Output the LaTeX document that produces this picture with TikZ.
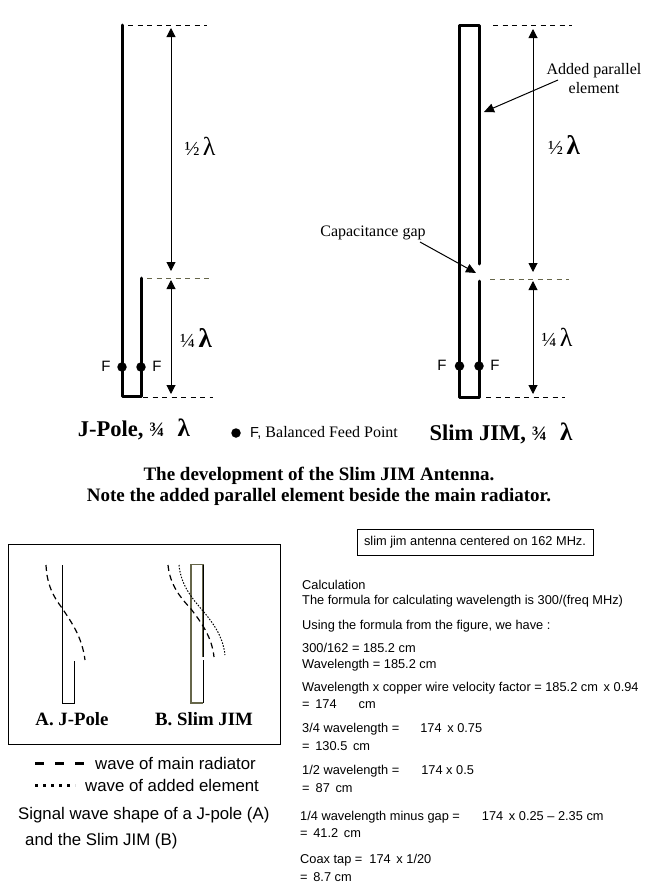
\documentclass[tikz,border=0pt]{standalone}
\usepackage{fontspec}
\setmainfont{Liberation Serif}
\newfontfamily\arialf{Liberation Sans}
\usetikzlibrary{arrows.meta}
\definecolor{olivegrey}{HTML}{66664A}
\newcommand{\biglam}{{\fontsize{27}{27}\selectfont\bfseries λ}}
\newcommand{\thinlam}{{\fontsize{26}{26}\selectfont λ}}
\tikzset{
  wire/.style={line width=3pt,line cap=round,line join=round},
  guide/.style={line width=0.9pt,dash pattern=on 5pt off 4.5pt},
  guideol/.style={guide,draw=olivegrey},
  span/.style={line width=1pt,{Triangle[length=9pt,width=9pt]}-{Triangle[length=9pt,width=9pt]}},
  pointer/.style={line width=1pt,-{Triangle[length=10pt,width=9pt]}},
  feed/.style={circle,fill=black,inner sep=0pt,minimum size=9.5pt},
  flabel/.style={font=\arialf\fontsize{15}{15}\selectfont,inner sep=0pt},
  frac/.style={font=\fontsize{20}{20}\selectfont,inner sep=0pt},
  call/.style={font=\fontsize{16}{19}\selectfont,inner sep=0pt,align=center},
  title/.style={font=\fontsize{22.5}{23}\selectfont\bfseries,inner sep=0pt},
  capt/.style={font=\fontsize{19}{21}\selectfont\bfseries,inner sep=0pt,align=center},
  sub/.style={font=\fontsize{18.8}{19}\selectfont\bfseries,inner sep=0pt},
  lgd/.style={font=\arialf\fontsize{16.8}{17}\selectfont,inner sep=0pt,anchor=west},
  calc/.style={font=\arialf\fontsize{12.8}{13}\selectfont,inner sep=0pt,anchor=west,yshift=-0.7pt},
  wavea/.style={line width=1.2pt,dash pattern=on 6pt off 4pt},
  waveb/.style={line width=1pt,dash pattern=on 1.5pt off 1.5pt},
  thin1/.style={line width=1pt}
}
\begin{document}
\begin{tikzpicture}[x=1pt,y=-1pt]
\useasboundingbox (0,0) rectangle (662,889);
\fill[white] (0,0) rectangle (662,889);

% J-pole
\coordinate (jt) at (122,25); \coordinate (jb) at (122,396.5);
\coordinate (jr) at (141,396.5); \coordinate (js) at (141,278);
\draw[wire] (jt) -- (jb) -- (jr) -- (js);
\coordinate (j1a) at (128,25); \coordinate (j1b) at (207,25);
\coordinate (j2a) at (147,278); \coordinate (j2b) at (211,278);
\coordinate (j3a) at (143,397); \coordinate (j3b) at (213,397);
\draw[guide] (j1a) -- (j1b);
\draw[guideol] (j2a) -- (j2b);
\draw[guide] (j3a) -- (j3b);
\coordinate (ja1) at (171,28); \coordinate (ja2) at (171,271);
\coordinate (ja3) at (171,280); \coordinate (ja4) at (171,394);
\draw[span] (ja1) -- (ja2);
\draw[span] (ja3) -- (ja4);
\node[frac] (jh) at (200,146) {½\,\thinlam};
\node[frac] (jq) at (196,338) {¼\,\biglam};
\node[feed] (jf1) at (122,367) {};
\node[feed] (jf2) at (141,367) {};
\node[flabel] (jfl1) at (106,366.5) {F};
\node[flabel] (jfl2) at (157,366.5) {F};
\node[title] (jtitle) at (134,429.5) {J-Pole, {\fontsize{20.5}{20}\selectfont ¾}\,\, {\fontsize{25}{25}\selectfont λ}};

% legend of feed point
\node[feed] (ffd) at (236,433) {};
\node[inner sep=0pt,anchor=west,font=\fontsize{16}{16}\selectfont] (ffl) at (250,433) {{\arialf\fontsize{14.5}{15}\selectfont F,} Balanced Feed Point};

% Slim JIM
\coordinate (st1) at (459.5,397); \coordinate (st2) at (459.5,25);
\coordinate (st3) at (479.5,25); \coordinate (st4) at (479.5,264);
\coordinate (st5) at (479,281); \coordinate (st6) at (479,397);
\draw[wire] (st4) -- (st3) -- (st2) -- (st1) -- (st6) -- (st5);
\coordinate (s1a) at (493,25); \coordinate (s1b) at (572,25);
\coordinate (s2a) at (490,279); \coordinate (s2b) at (569,279);
\coordinate (s3a) at (486,397); \coordinate (s3b) at (565,397);
\draw[guide] (s1a) -- (s1b);
\draw[guideol] (s2a) -- (s2b);
\draw[guide] (s3a) -- (s3b);
\coordinate (sa1) at (533,29); \coordinate (sa2) at (533,272);
\coordinate (sa3) at (533,281); \coordinate (sa4) at (533,394);
\draw[span] (sa1) -- (sa2);
\draw[span] (sa3) -- (sa4);
\node[frac] (sh) at (564,145) {½\,\biglam};
\node[frac] (sq) at (557,337) {¼\,\thinlam};
\node[feed] (sf1) at (459.5,366) {};
\node[feed] (sf2) at (479,366) {};
\node[flabel] (sfl1) at (442,365.5) {F};
\node[flabel] (sfl2) at (495,365.5) {F};
\node[title] (stitle) at (501,433) {Slim JIM, {\fontsize{20.5}{20}\selectfont ¾}\,\, {\fontsize{25}{25}\selectfont λ}};
\node[call] (capg) at (373,233) {Capacitance gap};
\coordinate (cga) at (420,242); \coordinate (cgb) at (476,273);
\draw[pointer] (cga) -- (cgb);
\node[call] (addp) at (594,78.5) {Added parallel\\element};
\coordinate (apa) at (558,80); \coordinate (apb) at (484,112);
\draw[pointer] (apa) -- (apb);

% caption
\node[capt] (caption) at (319,486) {The development of the Slim JIM Antenna.\\Note the added parallel element beside the main radiator.};

% box of wave shapes
\node[draw=black,line width=1pt,minimum width=272pt,minimum height=200pt,inner sep=0pt,anchor=north west] (wbox) at (8,543.5) {};
\coordinate (aa) at (62,565); \coordinate (ab) at (62,703.5);
\coordinate (ac) at (74.5,703.5); \coordinate (ad) at (74.5,661);
\draw[thin1] (aa) -- (ab) -- (ac) -- (ad);
\coordinate (ra) at (203,657); \coordinate (rb) at (203,564.5);
\coordinate (rc) at (191,564.5); \coordinate (rd) at (191,703);
\coordinate (re) at (203,703); \coordinate (rf) at (203,660);
\draw[line width=1.2pt,olivegrey] (ra) -- (rb) -- (rc) -- (rd) -- (re);
\draw[thin1] (ra) -- (rb);
\draw[thin1] (re) -- (rf);
\coordinate (wa1) at (46,565); \coordinate (wa2) at (62,608); \coordinate (wa3) at (85,660);
\draw[wavea] (wa1) .. controls (47,585) and (53,596) .. (wa2) .. controls (72,623) and (82,637) .. (wa3);
\coordinate (wb1) at (168,565); \coordinate (wb2) at (191,609); \coordinate (wb3) at (214,657);
\draw[wavea] (wb1) .. controls (170,585) and (180,597) .. (wb2) .. controls (201,622) and (212,637) .. (wb3);
\coordinate (wc1) at (179,565); \coordinate (wc2) at (203,611); \coordinate (wc3) at (225,655);
\draw[waveb] (wc1) .. controls (181,585) and (191,597) .. (wc2) .. controls (214,624) and (223,637) .. (wc3);
\node[sub] (alab) at (72,719) {A. J-Pole};
\node[sub] (blab) at (204,719) {B. Slim JIM};

% legend
\coordinate (l1a) at (35,763.5); \coordinate (l1b) at (84,763.5);
\coordinate (l2a) at (35,785); \coordinate (l2b) at (75,785);
\draw[line width=3pt,dash pattern=on 9pt off 11pt] (l1a) -- (l1b);
\draw[line width=3pt,dash pattern=on 3pt off 5pt] (l2a) -- (l2b);
\node[lgd] (lg1) at (95,763) {wave of main radiator};
\node[lgd] (lg2) at (85,785) {wave of added element};
\node[lgd] (lg3) at (18,815) {Signal wave shape of a J-pole (A)};
\node[lgd] (lg4) at (25,841) {and the Slim JIM (B)};

% calculation
\node[draw=black,line width=1pt,minimum width=236pt,minimum height=26pt,inner sep=0pt,font=\arialf\fontsize{12.8}{13}\selectfont] (tbox) at (475,542) {slim jim antenna centered on 162 MHz.};
\node[calc] (c01) at (302,584) {Calculation};
\node[calc] (c02) at (302,600.5) {The formula for calculating wavelength is 300/(freq MHz)};
\node[calc] (c03) at (302,625) {Using the formula from the figure, we have :};
\node[calc] (c04) at (302,647.5) {300/162 = 185.2 cm};
\node[calc] (c05) at (302,664) {Wavelength = 185.2 cm};
\node[calc] (c06) at (302,687) {Wavelength x copper wire velocity factor = 185.2 cm\, x 0.94};
\node[calc] (c07) at (302,703) {=\, 174\hspace{22pt}cm};
\node[calc] (c08) at (302,728.5) {3/4 wavelength =\hspace{21pt}174\, x 0.75};
\node[calc] (c09) at (302,745) {=\, 130.5\, cm};
\node[calc] (c10) at (302,770.5) {1/2 wavelength =\hspace{22pt}174 x 0.5};
\node[calc] (c11) at (302,787) {=\hspace{6pt}87\, cm};
\node[calc] (c12) at (300,816) {1/4 wavelength minus gap =\hspace{22pt}174\, x 0.25 – 2.35 cm};
\node[calc] (c13) at (300,832) {=\, 41.2\, cm};
\node[calc] (c14) at (300,859.5) {Coax tap =\hspace{7pt}174\, x 1/20};
\node[calc] (c15) at (300,876) {=\, 8.7 cm};
\end{tikzpicture}
\end{document}
